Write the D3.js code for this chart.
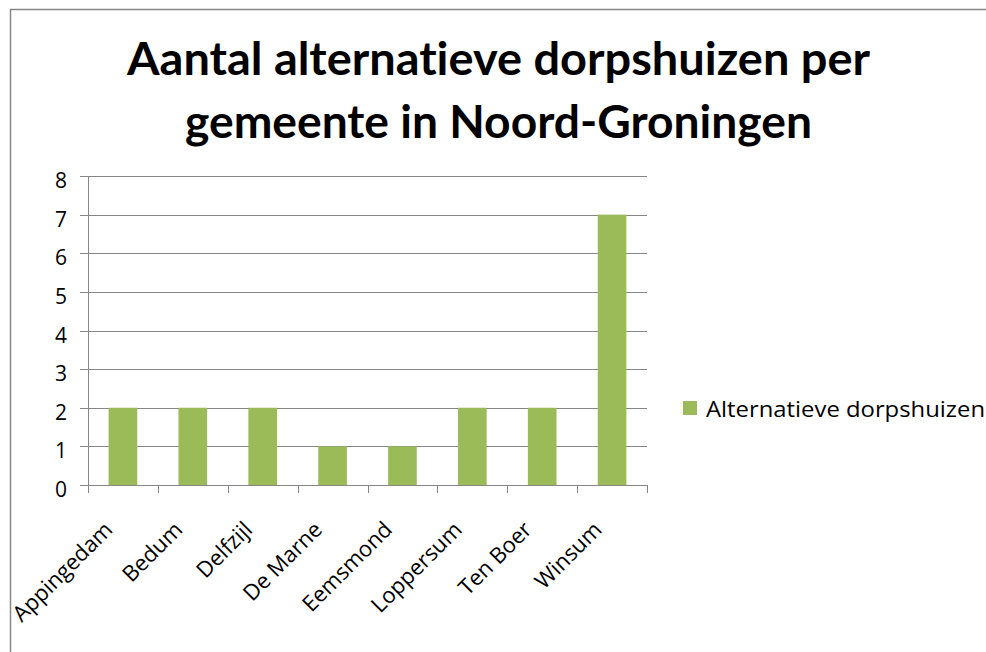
<!DOCTYPE html>
<html><head><meta charset="utf-8">
<script src="https://cdn.jsdelivr.net/npm/d3@7"></script>
<style>body{margin:0;background:#fff}svg{display:block}text{font-variant-ligatures:none;font-feature-settings:"liga" 0}</style>
</head><body>
<svg id="c" width="986" height="652"></svg>
<script>
const categories = ["Appingedam","Bedum","Delfzijl","De Marne","Eemsmond","Loppersum","Ten Boer","Winsum"];
const values = [2,2,2,1,1,2,2,7];
const yTicks = [0,1,2,3,4,5,6,7,8];
const seriesName = "Alternatieve dorpshuizen";
const titleLines = ["Aantal alternatieve dorpshuizen per","gemeente in Noord-Groningen"];
const titleWidths = [743, 627];

const svg = d3.select("#c");
const font = "'Open Sans', sans-serif";
const tfont = "Lato, 'Open Sans', sans-serif";
svg.append("rect").attr("x",10.5).attr("y",9.5).attr("width",1000).attr("height",700)
  .attr("fill","#fff").attr("stroke","#868686").attr("stroke-width",1.5);

const x = d3.scaleBand().domain(categories).range([88,647]).paddingInner(0.59).paddingOuter(0.295);
const xb = d3.scaleBand().domain(categories).range([88,647]);
const y = d3.scaleLinear().domain([0,8]).range([485,176]);

// grid
svg.append("g").selectAll("line").data(yTicks).join("line")
  .attr("x1",80).attr("x2",647).attr("y1",d=>Math.round(y(d))+0.5).attr("y2",d=>Math.round(y(d))+0.5)
  .attr("stroke","#868686").attr("stroke-width",1);

// bars
svg.append("g").selectAll("rect").data(values).join("rect")
  .attr("x",(d,i)=>x(categories[i])).attr("width",x.bandwidth())
  .attr("y",d=>y(d)).attr("height",d=>y(0)-y(d)).attr("fill","#9bbb59");

// y axis line
svg.append("line").attr("x1",88.5).attr("x2",88.5).attr("y1",176).attr("y2",485).attr("stroke","#868686");
// x axis ticks
const xt = categories.map(c=>xb(c)).concat([647]);
svg.append("g").selectAll("line").data(xt).join("line")
  .attr("x1",d=>Math.round(d)+0.5).attr("x2",d=>Math.round(d)+0.5).attr("y1",485).attr("y2",493)
  .attr("stroke","#868686");

// y labels
svg.append("g").selectAll("text").data(yTicks).join("text")
  .attr("x",67).attr("y",d=>y(d)+12).attr("text-anchor","end")
  .attr("font-family",font).attr("font-size",21).attr("fill","#000").text(d=>d);

// x labels
svg.append("g").selectAll("text").data(categories).join("text")
  .attr("transform",d=>`translate(${xb(d)+xb.bandwidth()/2-9},${531}) rotate(-45)`)
  .attr("text-anchor","end").attr("font-family",font).attr("font-size",22).attr("fill","#000").text(d=>d);

// title
svg.append("g").selectAll("text").data(titleLines).join("text")
  .attr("x",498.5).attr("y",(d,i)=>75+i*63).attr("text-anchor","middle")
  .attr("font-family",tfont).attr("font-weight","bold").attr("font-size",45).attr("fill","#000")
  .attr("textLength",(d,i)=>titleWidths[i]).attr("lengthAdjust","spacingAndGlyphs")
  .text(d=>d);

// legend
svg.append("rect").attr("x",683).attr("y",401).attr("width",14).attr("height",14).attr("fill","#9bbb59");
svg.append("text").attr("x",706).attr("y",417).attr("font-family",font).attr("font-size",21)
  .attr("textLength",279).attr("lengthAdjust","spacingAndGlyphs").text(seriesName);
</script>
</body></html>
